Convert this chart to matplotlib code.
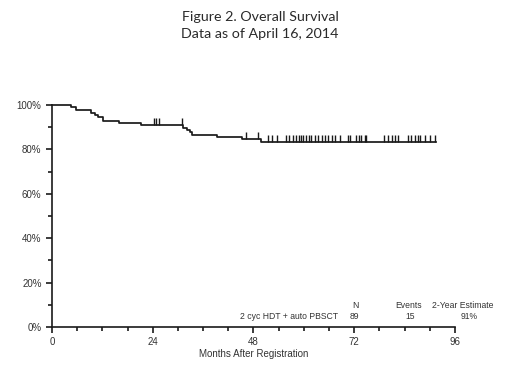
import numpy as np
import matplotlib
matplotlib.use('Agg')
from matplotlib import pyplot as plt
from matplotlib.ticker import MultipleLocator, FixedLocator

# Kaplan-Meier curve
event_months = [4.5, 5.6, 9.4, 10.2, 11.0, 12.2, 16.0, 21.3,
                31.3, 32.1, 32.9, 33.4, 39.4, 45.3, 49.7]
survival_pct = [98.9, 97.8, 96.6, 95.5, 94.4, 92.9, 92.0, 90.9,
                89.8, 88.7, 87.7, 86.7, 85.7, 84.6, 83.5]
last_followup = 91.4

censor_months = [24.2, 24.8, 25.4, 30.9, 46.1, 49.1, 51.5, 52.3, 53.5, 55.7,
                 56.5, 57.5, 58.1, 58.9, 59.4, 59.8, 60.6, 61.3, 61.8, 62.6,
                 63.4, 64.2, 65.0, 65.8, 66.6, 67.4, 68.6, 70.5, 71.1, 72.5,
                 73.2, 73.7, 74.5, 74.9, 79.0, 80.1, 80.9, 81.7, 82.5, 84.8,
                 85.6, 86.4, 87.2, 87.6, 88.8, 90.0, 91.2]

x_major = [0, 24, 48, 72, 96]
y_major = [0, 20, 40, 60, 80, 100]

group_label = '2 cyc HDT + auto PBSCT'
n_patients = 89
n_events = 15
two_year_est = '91%'

ink = '#1a1a1a'
txt = '#333333'

fig = plt.figure(figsize=(5.2, 3.8), dpi=100)
plt.rcParams['font.family'] = ['Liberation Sans', 'DejaVu Sans']

ax = fig.add_axes([52 / 520, 53 / 380, 403 / 520, 222 / 380])

times = [0] + event_months + [last_followup]
surv = [100] + survival_pct + [survival_pct[-1]]
ax.step(times, surv, where='post', color=ink, lw=1.25, clip_on=False)

# censor ticks sit on the step level at that time
idx = np.searchsorted(event_months, censor_months, side='right')
cens_y = [([100] + survival_pct)[i] for i in idx]
ax.plot(censor_months, cens_y, linestyle='none', marker=2, ms=5, mew=1.0,
        color=ink, clip_on=False)

ax.set_xlim(0, 96)
ax.set_ylim(0, 100)
ax.xaxis.set_major_locator(FixedLocator(x_major))
ax.xaxis.set_minor_locator(MultipleLocator(6))
ax.yaxis.set_major_locator(FixedLocator(y_major))
ax.yaxis.set_minor_locator(MultipleLocator(10))
ax.set_yticklabels(['%d%%' % v for v in y_major])

for s in ['top', 'right']:
    ax.spines[s].set_visible(False)
for s in ['left', 'bottom']:
    ax.spines[s].set_linewidth(1.2)
    ax.spines[s].set_color(ink)

ax.tick_params(which='major', direction='out', length=4.5, width=1.2,
               color=ink, labelsize=7, labelcolor=txt, pad=3)
ax.tick_params(which='minor', direction='out', length=3, width=1.2, color=ink)

ax.set_xlabel('Months After Registration', fontsize=7, color=txt, labelpad=1)

# title in figure pixels
fig.text(260 / 520, 1 - 17 / 380, 'Figure 2. Overall Survival', ha='center', va='center',
         fontsize=10.3, family=['Lato', 'DejaVu Sans'], color='#2a2a2a')
fig.text(260 / 520, 1 - 34 / 380, 'Data as of April 16, 2014', ha='center', va='center',
         fontsize=10.3, family=['Lato', 'DejaVu Sans'], color='#2a2a2a')

# summary table in the lower right
fs = 6.2
fig.text(355 / 520, 1 - 305.5 / 380, 'N', ha='center', va='center', fontsize=fs, color=txt)
fig.text(409 / 520, 1 - 305.5 / 380, 'Events', ha='center', va='center', fontsize=fs, color=txt)
fig.text(463 / 520, 1 - 305.5 / 380, '2-Year Estimate', ha='center', va='center', fontsize=fs, color=txt)
fig.text(338 / 520, 1 - 316.5 / 380, group_label, ha='right', va='center', fontsize=fs, color=txt)
fig.text(354 / 520, 1 - 316.5 / 380, str(n_patients), ha='center', va='center', fontsize=fs, color=txt)
fig.text(410 / 520, 1 - 316.5 / 380, str(n_events), ha='center', va='center', fontsize=fs, color=txt)
fig.text(469 / 520, 1 - 316.5 / 380, two_year_est, ha='center', va='center', fontsize=fs, color=txt)

fig.savefig('out.png', dpi=100)
